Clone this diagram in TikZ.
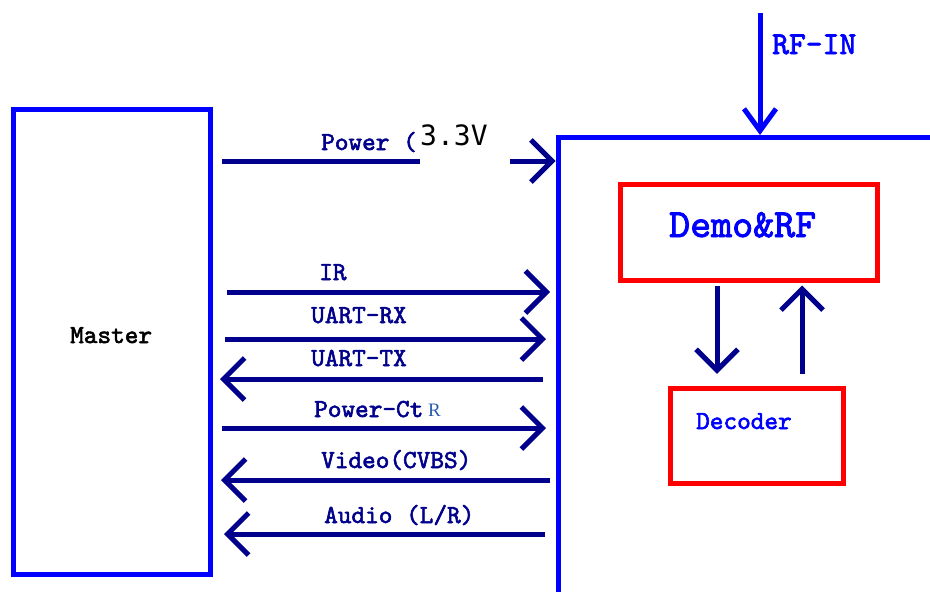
\documentclass[tikz,border=0pt]{standalone}
\usepackage{fontspec}
\newfontfamily\dejamono{DejaVu Sans Mono}
\newfontfamily\serifR{Liberation Serif}
\newfontfamily\lmbold[FakeBold=2.2]{lmmono10-regular.otf}
\usetikzlibrary{arrows.meta}
\definecolor{navy}{RGB}{0,0,140}
\definecolor{pblue}{RGB}{0,0,255}
\definecolor{pred}{RGB}{255,0,0}
\definecolor{rblue}{RGB}{40,90,170}
\begin{document}
\begin{tikzpicture}[x=1pt,y=-1pt,
  arr/.style={navy, line width=5pt, -{Straight Barb[length=21pt,width=42pt]}},
  plain/.style={navy, line width=5pt},
  sig/.style={anchor=base west, inner sep=0pt, text=navy, font=\lmbold\fontsize{26}{30}\selectfont},
  bluebox/.style={draw=pblue, line width=5pt, inner sep=0pt},
  redbox/.style={draw=pred, line width=5pt, inner sep=0pt},
  title/.style={anchor=base west, inner sep=0pt, text=pblue, font=\lmbold\fontsize{26}{30}\selectfont}]
\useasboundingbox (0,0) rectangle (930,592);

% boxes
\node[bluebox, minimum width=197.5pt, minimum height=465pt] (master) at (111.75,342.1) {};
\node[title, text=black] (mastert) at (70,343) {Master};

\node[bluebox, minimum width=420pt, minimum height=500pt, anchor=north west] (tuner) at (555.5,135) {};

\node[redbox, minimum width=257.5pt, minimum height=95.5pt] (demo) at (748.75,232.25) {};
\node[title, font=\lmbold\fontsize{40}{44}\selectfont] (demot) at (669,237) {Demo\&RF};

\node[redbox, minimum width=173pt, minimum height=95.4pt] (dec) at (757,436) {};
\node[title] (dect) at (696,429) {Decoder};

% RF-IN
\coordinate (rftop) at (760,13);
\draw[pblue, line width=5pt, -{Straight Barb[length=22pt,width=32pt]}] (rftop) -- (tuner.north -| rftop);
\node[title, font=\lmbold\fontsize{32}{36}\selectfont] (rft) at (772,54) {RF-IN};

% demo <-> decoder
\draw[arr] ([xshift=-31.75pt,yshift=-3pt]demo.south) -- ([xshift=-40pt,yshift=12pt]dec.north);
\draw[arr] ([xshift=45pt,yshift=12pt]dec.north) -- ([xshift=53.25pt,yshift=-3pt]demo.south);

% Power (3.3V)
\coordinate (pw1) at (222,161);
\coordinate (pw2) at (420,161);
\coordinate (pw3) at (510,161);
\draw[plain] (pw1) -- (pw2);
\draw[arr] (pw3) -- (tuner.west |- pw3);
\node[sig] (pwt) at (321,150) {Power (};
\node[anchor=base west, inner sep=0pt, font=\dejamono\fontsize{28}{32}\selectfont] (v33) at (420,145) {3.3V};

% signals
\coordinate (ir1) at (227,292);   \coordinate (ir2) at (550,292);
\coordinate (rx1) at (225,339);   \coordinate (rx2) at (546,339);
\coordinate (tx1) at (543,379);   \coordinate (tx2) at (220,379);
\coordinate (pc1) at (222,428);   \coordinate (pc2) at (546,428);
\coordinate (vd1) at (550,480);   \coordinate (vd2) at (221,480);
\coordinate (au1) at (545,534);   \coordinate (au2) at (224,534);
\draw[arr] (ir1) -- (ir2);
\draw[arr] (rx1) -- (rx2);
\draw[arr] (tx1) -- (tx2);
\draw[arr] (pc1) -- (pc2);
\draw[arr] (vd1) -- (vd2);
\draw[arr] (au1) -- (au2);

\node[sig] (irt) at (319,280) {IR};
\node[sig] (rxt) at (311,323) {UART-RX};
\node[sig] (txt) at (311,366) {UART-TX};
\node[sig] (pct) at (314,417) {Power-Ct};
\node[anchor=base west, inner sep=0pt, text=rblue, font=\serifR\fontsize{19}{22}\selectfont] (pcr) at (428,416) {R};
\node[sig] (vdt) at (321,468) {Video(CVBS)};
\node[sig] (aut) at (324,523) {Audio (L/R)};
\end{tikzpicture}
\end{document}
